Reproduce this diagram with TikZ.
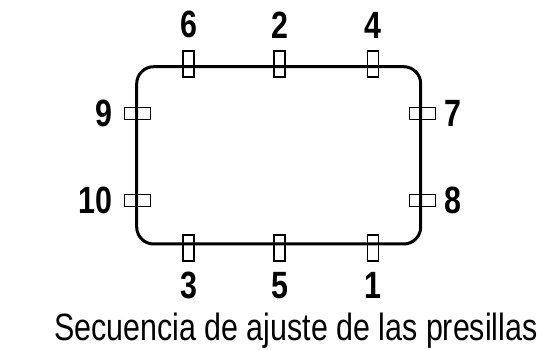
\documentclass[tikz,border=0pt]{standalone}
\usepackage{fontspec}
\setmainfont{Liberation Sans}[FakeStretch=0.8]
\usetikzlibrary{positioning}
\tikzset{
  frame/.style={line width=3pt, rounded corners=17pt},
  clipv/.style={draw, line width=1.3pt, minimum width=11pt, minimum height=26pt, inner sep=0pt},
  cliph/.style={draw, line width=1.3pt, minimum width=26pt, minimum height=12pt, inner sep=0pt},
  num/.style={font=\fontsize{38}{40}\selectfont\bfseries, inner sep=0pt},
}
\begin{document}
\begin{tikzpicture}[x=1pt,y=-1pt]
    \useasboundingbox (0,0) rectangle (555,350);
    \draw[frame] (136.7,66.7) rectangle (420.7,244);

    % clips on top and bottom
    \foreach \n/\x in {6/188.5, 2/279.5, 4/373}
        \node[clipv] (c\n) at (\x,64) {};
    \foreach \n/\x in {3/188.5, 5/279.5, 1/373}
        \node[clipv] (c\n) at (\x,248) {};
    % clips on the sides
    \foreach \n/\y in {9/113.5, 10/200.5}
        \node[cliph] (c\n) at (137.5,\y) {};
    \foreach \n/\y in {7/113.5, 8/200.5}
        \node[cliph] (c\n) at (422.5,\y) {};

    \node[num, above=12pt of c6] (l6) {6};
    \node[num, above=12pt of c2] (l2) {2};
    \node[num, above=12pt of c4] (l4) {4};
    \node[num, below=10.5pt of c3] (l3) {3};
    \node[num, below=10.5pt of c5] (l5) {5};
    \node[num, below=10.5pt of c1] (l1) {1};
    \node[num, left=11pt of c9] (l9) {9};
    \node[num, left=11pt of c10] (l10) {10};
    \node[num, right=8pt of c7] (l7) {7};
    \node[num, right=8pt of c8] (l8) {8};

    \node[font=\fontsize{38}{40}\selectfont, anchor=base] (title) at (296,340) {Secuencia de ajuste de las presillas};
\end{tikzpicture}
\end{document}
